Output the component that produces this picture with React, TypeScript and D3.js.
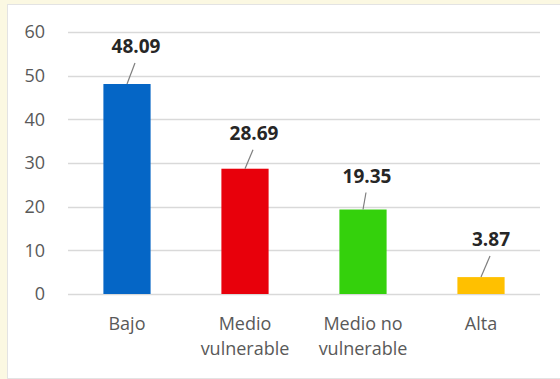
import React from "react";
import * as d3 from "d3";

const categories: string[][] = [["Bajo"], ["Medio", "vulnerable"], ["Medio no", "vulnerable"], ["Alta"]];
const values: number[] = [48.09, 28.69, 19.35, 3.87];
const valueLabels: string[] = ["48.09", "28.69", "19.35", "3.87"];
const barColors: string[] = ["#0566c6", "#e8000b", "#34d10c", "#ffc000"];
const yTicks: number[] = [0, 10, 20, 30, 40, 50, 60];

// label placement offsets relative to bar center / bar top (layout, not data)
const labelDx: number[] = [9, 9, 4, 10];
const labelDy: number[] = [-31, -29, -27, -31];

const W = 560;
const H = 379;
const FONT = "'Open Sans', 'Liberation Sans', sans-serif";

export default function App() {
  const keys = categories.map((c) => c.join(" "));
  const x = d3.scaleBand<string>().domain(keys).range([68, 540]).paddingInner(0.6).paddingOuter(0.3);
  const y = d3.scaleLinear().domain([0, 60]).range([294, 32]);

  return (
    <svg width={W} height={H} style={{ position: "absolute", left: 0, top: 0, display: "block" }} fontFamily={FONT}>
      <rect x={0} y={0} width={W} height={H} fill="#fbf8e2" />
      <rect x={7.5} y={4.5} width={W - 7} height={H - 5} fill="#ffffff" stroke="#e3e3e3" strokeWidth={1} />
      {yTicks.map((t) => (
        <g key={t}>
          <line x1={68} x2={540} y1={Math.round(y(t)) + 0.5} y2={Math.round(y(t)) + 0.5} stroke="#d9d9d9" strokeWidth={1.3} />
          <text x={45} y={y(t)} dy="0.36em" textAnchor="end" fontSize={18} fill="#595959">
            {t}
          </text>
        </g>
      ))}
      {values.map((v, i) => {
        const k = keys[i];
        const bx = x(k)!;
        const cx = bx + x.bandwidth() / 2;
        const top = y(v);
        const lx = cx + labelDx[i];
        const ly = top + labelDy[i];
        return (
          <g key={k}>
            <rect x={bx} y={top} width={x.bandwidth()} height={y(0) - top} fill={barColors[i]} />
            <line x1={cx} y1={top} x2={lx - 1} y2={ly + 10} stroke="#7f7f7f" strokeWidth={1.2} />
            <text x={lx} y={ly} textAnchor="middle" fontSize={19} fontWeight="bold" fill="#262626">
              {valueLabels[i]}
            </text>
            {categories[i].map((line, j) => (
              <text key={j} x={cx} y={330 + j * 25} textAnchor="middle" fontSize={18} fill="#595959">
                {line}
              </text>
            ))}
          </g>
        );
      })}
    </svg>
  );
}
